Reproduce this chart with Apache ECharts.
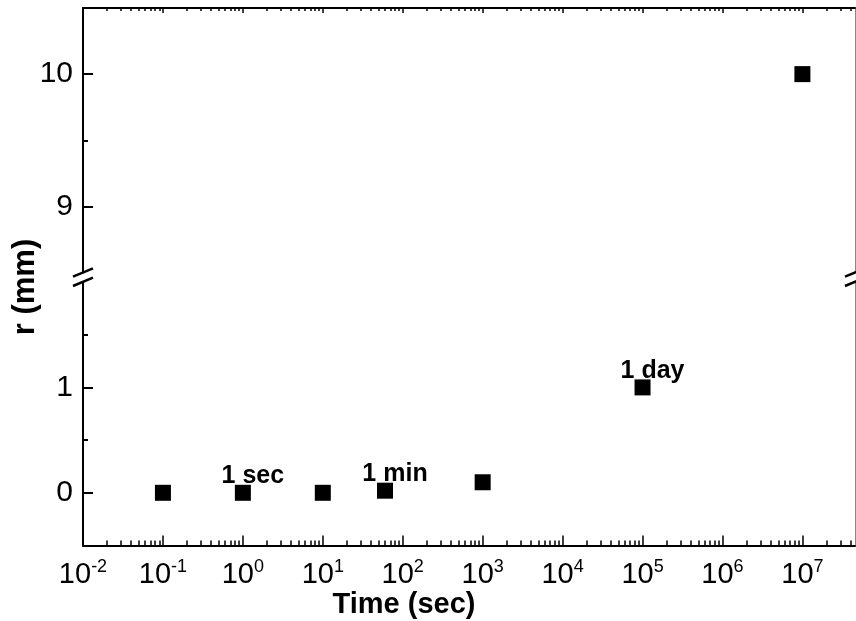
<!DOCTYPE html>
<html>
<head>
<meta charset="utf-8">
<style>
  html, body { margin: 0; padding: 0; background: #fff; }
  #chart { width: 856px; height: 621px; }
</style>
<script src="https://cdn.jsdelivr.net/npm/echarts@6/dist/echarts.min.js"></script>
</head>
<body>
<div id="chart"></div>
<script>
// Measured spreading radius over time
const timeSec  = [0.1, 1, 10, 60, 1000, 1e5, 1e7];
const radiusMm = [0, 0, 0, 0.02, 0.1, 1, 10];
const timeNotes = ['', '1 sec', '', '1 min', '', '1 day', ''];

// Log time axis: decades and the 2..9 minor ticks
const xMin = 0.01;
const xMax = 4.55e7;
const xDecades = [1e-2, 1e-1, 1, 1e1, 1e2, 1e3, 1e4, 1e5, 1e6, 1e7];
const xMinor = [];
xDecades.forEach(function (d) {
  for (let k = 2; k <= 9; k++) {
    const v = d * k;
    if (v < xMax) xMinor.push(v);
  }
});

// Broken radius axis: lower and upper segments
const lowerRange = [-0.5, 2];
const lowerMajor = [0, 1];
const lowerMinor = [0.5, 1.5];
const upperRange = [8.5, 10.5];
const upperMajor = [9, 10];
const upperMinor = [9.5];
const breakValue = 5;

const FONT = 'Liberation Sans, Arial, sans-serif';

const lowerPts = [], upperPts = [];
timeSec.forEach(function (t, i) {
  const item = { value: [t, radiusMm[i]] };
  if (timeNotes[i]) {
    item.label = { show: true, formatter: timeNotes[i] };
  }
  (radiusMm[i] > breakValue ? upperPts : lowerPts).push(item);
});

function expLabel(v) {
  const e = Math.round(Math.log10(v));
  return '{b|10}{s|' + e + '}';
}

const chart = echarts.init(document.getElementById('chart'), null, { renderer: 'canvas' });

const lineStyle = { color: '#000', width: 2 };

function xAxisPair(gridIndex, position, withLabels, majorLen, minorLen) {
  return [
    {
      type: 'log', gridIndex: gridIndex, position: position, min: xMin, max: xMax,
      axisLine: { show: true, onZero: false, lineStyle: lineStyle },
      axisTick: { show: true, inside: true, length: majorLen, lineStyle: { color: '#000', width: 1.5 }, customValues: xDecades },
      axisLabel: withLabels ? {
        show: true, customValues: xDecades, margin: 13,
        formatter: expLabel,
        rich: {
          b: { fontFamily: FONT, fontSize: 29, color: '#000', lineHeight: 32 },
          s: { fontFamily: FONT, fontSize: 18, color: '#000', verticalAlign: 'top', lineHeight: 18 }
        }
      } : { show: false },
      splitLine: { show: false }
    },
    {
      type: 'log', gridIndex: gridIndex, position: position, min: xMin, max: xMax,
      axisLine: { show: false, onZero: false },
      axisTick: { show: true, inside: true, length: minorLen, lineStyle: { color: '#000', width: 1.5 }, customValues: xMinor },
      axisLabel: { show: false },
      splitLine: { show: false }
    }
  ];
}

function yAxisSet(gridIndex, range, major, minor) {
  return [
    {
      type: 'value', gridIndex: gridIndex, position: 'left', min: range[0], max: range[1],
      axisLine: { show: true, onZero: false, lineStyle: lineStyle },
      axisTick: { show: true, inside: true, length: 10, lineStyle: { color: '#000', width: 2 }, customValues: major },
      axisLabel: { show: true, customValues: major, margin: 10, fontFamily: FONT, fontSize: 30, color: '#000' },
      splitLine: { show: false }
    },
    {
      type: 'value', gridIndex: gridIndex, position: 'left', min: range[0], max: range[1],
      axisLine: { show: false, onZero: false },
      axisTick: { show: true, inside: true, length: 5, lineStyle: { color: '#000', width: 2 }, customValues: minor },
      axisLabel: { show: false },
      splitLine: { show: false }
    },
    {
      type: 'value', gridIndex: gridIndex, position: 'right', min: range[0], max: range[1],
      axisLine: { show: true, onZero: false, lineStyle: { color: '#888', width: 1 } },
      axisTick: { show: false },
      axisLabel: { show: false },
      splitLine: { show: false }
    }
  ];
}

const markerStyle = { color: '#000', opacity: 1 };
const noteLabel = {
  position: 'top', distance: 0, offset: [10, 4],
  fontFamily: FONT, fontSize: 25, fontWeight: 'bold', color: '#000', opacity: 1
};

// Axis-break marks drawn across both vertical frame lines
const breakMarks = [];
[83, 855].forEach(function (cx) {
  [[276.7, 268.3], [286.0, 277.7]].forEach(function (ys) {
    breakMarks.push({
      type: 'line',
      shape: { x1: cx - 10, y1: ys[0], x2: cx + 10, y2: ys[1] },
      style: { stroke: '#000', lineWidth: 2.5 },
      z: 10
    });
  });
});

chart.setOption({
  backgroundColor: '#fff',
  animation: false,
  grid: [
    { left: 83, right: 1, top: 282, height: 263.5, show: false },
    { left: 83, right: 1, top: 8, height: 264.5, show: false }
  ],
  xAxis: [].concat(
    xAxisPair(0, 'bottom', true, 10, 5),
    xAxisPair(1, 'top', false, 5, 3)
  ),
  yAxis: [].concat(
    yAxisSet(0, lowerRange, lowerMajor, lowerMinor),
    yAxisSet(1, upperRange, upperMajor, upperMinor)
  ),
  series: [
    {
      type: 'scatter', xAxisIndex: 0, yAxisIndex: 0,
      symbol: 'rect', symbolSize: 16, itemStyle: markerStyle,
      label: noteLabel,
      emphasis: { disabled: true },
      data: lowerPts
    },
    {
      type: 'scatter', xAxisIndex: 2, yAxisIndex: 3,
      symbol: 'rect', symbolSize: 16, itemStyle: markerStyle,
      label: noteLabel,
      emphasis: { disabled: true },
      data: upperPts
    }
  ],
  graphic: breakMarks.concat([
    {
      type: 'text', x: 404, y: 605,
      style: { text: 'Time (sec)', fontFamily: FONT, fontSize: 29, fontWeight: 'bold', fill: '#000', align: 'center', verticalAlign: 'middle' }
    },
    {
      type: 'text', x: 25, y: 287, rotation: Math.PI / 2,
      style: { text: 'r (mm)', fontFamily: FONT, fontSize: 31, fontWeight: 'bold', fill: '#000', align: 'center', verticalAlign: 'middle' }
    }
  ])
});
</script>
</body>
</html>
